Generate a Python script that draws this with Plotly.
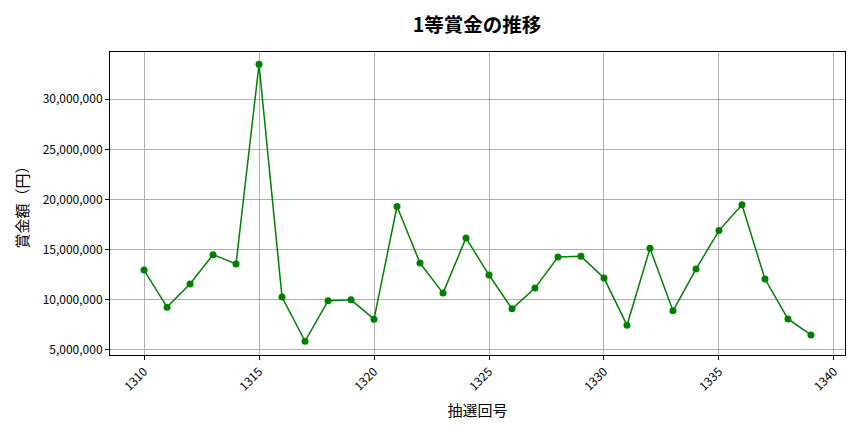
import plotly.graph_objects as go

draws = list(range(1310, 1340))
prizes = [12970000, 9270000, 11570000, 14500000, 13570000, 33470000, 10270000, 5870000,
          9900000, 10000000, 8070000, 19300000, 13670000, 10670000, 16170000, 12470000,
          9100000, 11170000, 14270000, 14330000, 12170000, 7470000, 15130000, 8900000,
          13070000, 16900000, 19470000, 12070000, 8100000, 6500000]
x_ticks = [1310, 1315, 1320, 1325, 1330, 1335, 1340]
y_ticks = [5000000, 10000000, 15000000, 20000000, 25000000, 30000000]

FONT = "Noto Sans CJK JP"

fig = go.Figure()
fig.add_trace(go.Scatter(
    x=draws, y=prizes, mode="lines+markers",
    line=dict(color="green", width=1.5),
    marker=dict(color="green", size=7),
    showlegend=False,
))

fig.update_layout(
    width=864, height=432,
    margin=dict(l=102, r=27, t=44, b=85),
    paper_bgcolor="white", plot_bgcolor="white",
    font=dict(family=FONT, color="black", size=12),
    title=dict(text="<b>1等賞金の推移</b>", x=0.5428, xanchor="center", y=0.9606, yanchor="middle",
               font=dict(family=FONT, size=19.5, color="black")),
)
fig.update_xaxes(
    range=[1308.52, 1340.48], tickvals=x_ticks, tickangle=-45,
    showgrid=True, gridcolor="#b0b0b0", gridwidth=0.8,
    showline=True, linecolor="black", linewidth=1, mirror=True,
    ticks="outside", ticklen=4, tickcolor="black",
    title=dict(text="抽選回号", font=dict(family=FONT, size=15), standoff=12),
    zeroline=False,
)
fig.update_yaxes(
    range=[4500000, 34700000], tickvals=y_ticks, tickformat=",d",
    showgrid=True, gridcolor="#b0b0b0", gridwidth=0.8,
    showline=True, linecolor="black", linewidth=1, mirror=True,
    ticks="outside", ticklen=4, tickcolor="black",
    title=dict(text="賞金額（円）", font=dict(family=FONT, size=15), standoff=10),
    zeroline=False,
)

fig.write_html("out.html")
